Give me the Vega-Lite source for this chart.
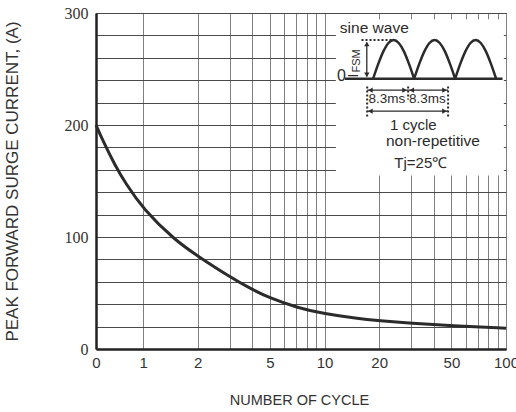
{
  "$schema": "https://vega.github.io/schema/vega-lite/v6.json",
  "width": 410,
  "height": 336,
  "autosize": "none",
  "padding": {"left": 96, "top": 13, "right": 10, "bottom": 63},
  "background": "white",
  "config": {"view": {"stroke": "#444444", "strokeWidth": 1}, "font": "Liberation Sans"},
  "resolve": {"scale": {"x": "independent", "y": "independent"}},
  "layer": [
    {
      "data": {"values": [
        {"cycles": 0.55, "current": 200},
        {"cycles": 0.6, "current": 186},
        {"cycles": 0.7, "current": 164},
        {"cycles": 0.8, "current": 148},
        {"cycles": 1, "current": 125},
        {"cycles": 1.5, "current": 97},
        {"cycles": 2, "current": 83},
        {"cycles": 3, "current": 64.5},
        {"cycles": 4, "current": 53},
        {"cycles": 5, "current": 45.5},
        {"cycles": 7, "current": 37},
        {"cycles": 10, "current": 31.5},
        {"cycles": 15, "current": 27.3},
        {"cycles": 20, "current": 25.3},
        {"cycles": 30, "current": 23},
        {"cycles": 50, "current": 20.8},
        {"cycles": 100, "current": 18.5}
      ]},
      "mark": {"type": "line", "color": "#2b2b2b", "strokeWidth": 3, "interpolate": "basis"},
      "encoding": {
        "x": {
          "field": "cycles", "type": "quantitative",
          "scale": {"type": "log", "domain": [0.55, 100], "nice": false},
          "axis": {
            "values": [0.55, 1, 2, 3, 4, 5, 6, 7, 8, 9, 10, 20, 30, 40, 50, 60, 70, 80, 90, 100],
            "labelExpr": "datum.value < 0.9 ? '0' : (indexof([1, 2, 5, 10, 20, 50, 100], datum.value) >= 0 ? format(datum.value, 'd') : '')",
            "grid": true, "gridColor": "#808080", "gridWidth": 1, "gridOpacity": 1,
            "ticks": false, "domainColor": "#222222", "domainWidth": 2.5,
            "labelFont": "Liberation Sans", "labelFontSize": 15, "labelColor": "#333333",
            "labelPadding": 6, "labelFlush": false, "labelOverlap": false, "labelBound": false,
            "title": "NUMBER OF CYCLE", "titleFont": "Liberation Sans", "titleFontSize": 14.5,
            "titleFontWeight": "normal", "titleColor": "#333333",
            "titleX": 203, "titleY": 44, "titleBaseline": "top", "titleAlign": "center"
          }
        },
        "y": {
          "field": "current", "type": "quantitative",
          "scale": {"domain": [0, 300], "nice": false},
          "axis": {
            "values": [0, 20, 40, 60, 80, 100, 120, 140, 160, 180, 200, 220, 240, 260, 280, 300],
            "labelExpr": "datum.value % 100 === 0 ? format(datum.value, 'd') : ''",
            "grid": true, "gridColor": "#4a4a4a", "gridWidth": 1, "gridOpacity": 1,
            "ticks": false, "domainColor": "#222222", "domainWidth": 2.5,
            "labelFont": "Liberation Sans Narrow", "labelFontSize": 16, "labelColor": "#333333",
            "labelPadding": 8, "labelOverlap": false, "labelBound": false, "labelFlush": false,
            "title": "PEAK FORWARD SURGE CURRENT, (A)", "titleFont": "Liberation Sans", "titleFontSize": 17,
            "titleFontWeight": "normal", "titleColor": "#333333",
            "titleX": -75, "titleY": 168, "titleBaseline": "bottom", "titleAlign": "center", "titleAngle": 270
          }
        }
      }
    },
    {
      "layer": [
        {
          "data": {"values": [{"x1": -7.55, "x2": 26.46, "y1": 1.54, "y2": -2.5}]},
          "mark": {"type": "rect", "fill": "white", "stroke": null},
          "encoding": {
            "x": {"field": "x1", "type": "quantitative", "scale": {"domain": [-56.1, 26.9], "nice": false, "zero": false}, "axis": null},
            "x2": {"field": "x2"},
            "y": {"field": "y1", "type": "quantitative", "scale": {"domain": [-6.99, 1.7], "nice": false, "zero": false}, "axis": null},
            "y2": {"field": "y2"}
          }
        },
        {
          "data": {"values": [
            {"arch": 1, "t": 0, "a": 0}, {"arch": 1, "t": 1.04, "a": 0.383}, {"arch": 1, "t": 2.08, "a": 0.707}, {"arch": 1, "t": 3.11, "a": 0.924}, {"arch": 1, "t": 4.15, "a": 1}, {"arch": 1, "t": 5.19, "a": 0.924}, {"arch": 1, "t": 6.23, "a": 0.707}, {"arch": 1, "t": 7.26, "a": 0.383}, {"arch": 1, "t": 8.3, "a": 0},
            {"arch": 2, "t": 8.3, "a": 0}, {"arch": 2, "t": 9.34, "a": 0.383}, {"arch": 2, "t": 10.38, "a": 0.707}, {"arch": 2, "t": 11.41, "a": 0.924}, {"arch": 2, "t": 12.45, "a": 1}, {"arch": 2, "t": 13.49, "a": 0.924}, {"arch": 2, "t": 14.53, "a": 0.707}, {"arch": 2, "t": 15.56, "a": 0.383}, {"arch": 2, "t": 16.6, "a": 0},
            {"arch": 3, "t": 16.6, "a": 0}, {"arch": 3, "t": 17.64, "a": 0.383}, {"arch": 3, "t": 18.68, "a": 0.707}, {"arch": 3, "t": 19.71, "a": 0.924}, {"arch": 3, "t": 20.75, "a": 1}, {"arch": 3, "t": 21.79, "a": 0.924}, {"arch": 3, "t": 22.83, "a": 0.707}, {"arch": 3, "t": 23.86, "a": 0.383}, {"arch": 3, "t": 24.9, "a": 0}
          ]},
          "mark": {"type": "line", "color": "#2b2b2b", "strokeWidth": 2.5, "interpolate": "monotone"},
          "encoding": {
            "x": {"field": "t", "type": "quantitative", "scale": {"domain": [-56.1, 26.9], "nice": false, "zero": false}, "axis": null},
            "y": {"field": "a", "type": "quantitative", "scale": {"domain": [-6.99, 1.7], "nice": false, "zero": false}, "axis": null},
            "detail": {"field": "arch"}
          }
        },
        {
          "data": {"values": [
            {"x1": -5.73, "x2": 26.2, "y1": 0, "y2": 0, "kind": "solid"},
            {"x1": -1.28, "x2": -1.28, "y1": 0.06, "y2": 0.94, "kind": "thin"},
            {"x1": -1.2, "x2": 7.09, "y1": -0.295, "y2": -0.295, "kind": "thin"},
            {"x1": 7.09, "x2": 15.18, "y1": -0.295, "y2": -0.295, "kind": "thin"},
            {"x1": -1.2, "x2": 15.18, "y1": -0.84, "y2": -0.84, "kind": "thin"}
          ]},
          "mark": {"type": "rule", "color": "#2b2b2b"},
          "encoding": {
            "x": {"field": "x1", "type": "quantitative", "scale": {"domain": [-56.1, 26.9], "nice": false, "zero": false}, "axis": null},
            "x2": {"field": "x2"},
            "y": {"field": "y1", "type": "quantitative", "scale": {"domain": [-6.99, 1.7], "nice": false, "zero": false}, "axis": null},
            "y2": {"field": "y2"},
            "strokeWidth": {"field": "kind", "type": "nominal", "scale": {"domain": ["solid", "thin"], "range": [2.5, 1.3]}, "legend": null}
          }
        },
        {
          "data": {"values": [
            {"x1": -2.35, "x2": 3.99, "y1": 1, "y2": 1},
            {"x1": -1.2, "x2": -1.2, "y1": -0.2, "y2": -0.98},
            {"x1": 7.09, "x2": 7.09, "y1": -0.2, "y2": -0.54},
            {"x1": 15.18, "x2": 15.18, "y1": -0.2, "y2": -0.98}
          ]},
          "mark": {"type": "rule", "color": "#2b2b2b", "strokeWidth": 2, "strokeDash": [2, 2]},
          "encoding": {
            "x": {"field": "x1", "type": "quantitative", "scale": {"domain": [-56.1, 26.9], "nice": false, "zero": false}, "axis": null},
            "x2": {"field": "x2"},
            "y": {"field": "y1", "type": "quantitative", "scale": {"domain": [-6.99, 1.7], "nice": false, "zero": false}, "axis": null},
            "y2": {"field": "y2"}
          }
        },
        {
          "data": {"values": [
            {"x": -0.55, "y": -0.295, "head": "triangle-left"},
            {"x": 6.36, "y": -0.295, "head": "triangle-right"},
            {"x": 7.82, "y": -0.295, "head": "triangle-left"},
            {"x": 14.45, "y": -0.295, "head": "triangle-right"},
            {"x": -0.55, "y": -0.84, "head": "triangle-left"},
            {"x": 14.45, "y": -0.84, "head": "triangle-right"},
            {"x": -1.28, "y": 0.9, "head": "triangle-up"},
            {"x": -1.28, "y": 0.1, "head": "triangle-down"}
          ]},
          "mark": {"type": "point", "filled": true, "color": "#2b2b2b", "opacity": 1, "size": 28},
          "encoding": {
            "x": {"field": "x", "type": "quantitative", "scale": {"domain": [-56.1, 26.9], "nice": false, "zero": false}, "axis": null},
            "y": {"field": "y", "type": "quantitative", "scale": {"domain": [-6.99, 1.7], "nice": false, "zero": false}, "axis": null},
            "shape": {"field": "head", "type": "nominal", "scale": {"domain": ["triangle-left", "triangle-right", "triangle-up", "triangle-down"], "range": ["triangle-left", "triangle-right", "triangle-up", "triangle-down"]}, "legend": null}
          }
        },
        {
          "data": {"values": [
            {"x": 0.24, "y": 1.17, "label": "sine wave", "size": 15.5},
            {"x": -6.4, "y": -0.07, "label": "0", "size": 16},
            {"x": 2.77, "y": -0.64, "label": "8.3ms", "size": 13.5},
            {"x": 10.97, "y": -0.64, "label": "8.3ms", "size": 13.5},
            {"x": 8.14, "y": -1.32, "label": "1 cycle", "size": 15},
            {"x": 12.09, "y": -1.74, "label": "non-repetitive", "size": 15.5},
            {"x": 9.66, "y": -2.3, "label": "Tj=25℃", "size": 15}
          ]},
          "mark": {"type": "text", "color": "#2b2b2b", "font": "Liberation Sans", "baseline": "alphabetic", "align": "center"},
          "encoding": {
            "x": {"field": "x", "type": "quantitative", "scale": {"domain": [-56.1, 26.9], "nice": false, "zero": false}, "axis": null},
            "y": {"field": "y", "type": "quantitative", "scale": {"domain": [-6.99, 1.7], "nice": false, "zero": false}, "axis": null},
            "text": {"field": "label"},
            "size": {"field": "size", "type": "quantitative", "scale": null}
          }
        },
        {
          "data": {"values": [
            {"x": -3.1, "y": 0.03, "label": "I", "size": 14},
            {"x": -2.7, "y": 0.16, "label": "FSM", "size": 11}
          ]},
          "mark": {"type": "text", "color": "#2b2b2b", "font": "Liberation Sans", "angle": 270, "align": "left", "baseline": "alphabetic"},
          "encoding": {
            "x": {"field": "x", "type": "quantitative", "scale": {"domain": [-56.1, 26.9], "nice": false, "zero": false}, "axis": null},
            "y": {"field": "y", "type": "quantitative", "scale": {"domain": [-6.99, 1.7], "nice": false, "zero": false}, "axis": null},
            "text": {"field": "label"},
            "size": {"field": "size", "type": "quantitative", "scale": null}
          }
        }
      ]
    }
  ]
}
